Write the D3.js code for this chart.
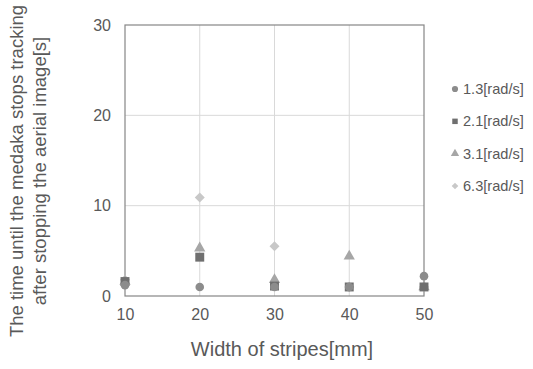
<!DOCTYPE html>
<html lang="en">
<head>
<meta charset="UTF-8">
<title>Medaka tracking time</title>
<script src="https://d3js.org/d3.v7.min.js"></script>
<style>
  body { margin: 0; background: #fff; }
  svg { font-family: "Liberation Sans", Arial, sans-serif; }
  .tick text { fill: #595959; font-size: 16px; }
</style>
</head>
<body>
<svg id="chart" width="533" height="369"></svg>
<script>
// data
const widths = [10, 20, 30, 40, 50];
const series1 = [1.2, 1.0, 1.0, 1.0, 2.2];   // 1.3[rad/s]
const series2 = [1.6, 4.3, 1.1, 1.0, 1.0];   // 2.1[rad/s]
const series3 = [1.6, 5.3, 1.8, 4.4, 1.0];   // 3.1[rad/s]
const series4 = [1.8, 10.9, 5.5, 1.0, 1.0];  // 6.3[rad/s]
const seriesNames = ["1.3[rad/s]", "2.1[rad/s]", "3.1[rad/s]", "6.3[rad/s]"];
const yTicks = [0, 10, 20, 30];
const xTicks = [10, 20, 30, 40, 50];

const svg = d3.select("#chart");
const plotLeft = 125, plotRight = 424, plotTop = 25, plotBottom = 296;

const x = d3.scaleLinear().domain([10, 50]).range([plotLeft, plotRight]);
const y = d3.scaleLinear().domain([0, 30]).range([plotBottom, plotTop]);

// gridlines
svg.append("g").selectAll("line").data(xTicks.slice(1, -1)).join("line")
  .attr("x1", d => x(d)).attr("x2", d => x(d))
  .attr("y1", plotTop).attr("y2", plotBottom)
  .attr("stroke", "#d9d9d9");
svg.append("g").selectAll("line").data(yTicks.slice(1, -1)).join("line")
  .attr("x1", plotLeft).attr("x2", plotRight)
  .attr("y1", d => y(d)).attr("y2", d => y(d))
  .attr("stroke", "#d9d9d9");

// frame
svg.append("rect")
  .attr("x", plotLeft).attr("y", plotTop)
  .attr("width", plotRight - plotLeft).attr("height", plotBottom - plotTop)
  .attr("fill", "none").attr("stroke", "#868686").attr("stroke-width", 1.2);

// axes
const xAxis = svg.append("g")
  .attr("transform", `translate(0,${plotBottom})`)
  .call(d3.axisBottom(x).tickValues(xTicks).tickSize(0).tickPadding(13));
xAxis.select(".domain").remove();

const yAxis = svg.append("g")
  .attr("transform", `translate(${plotLeft},0)`)
  .call(d3.axisLeft(y).tickValues(yTicks).tickSize(0).tickPadding(14));
yAxis.select(".domain").remove();

// axis titles
svg.append("text")
  .attr("x", 282).attr("y", 356)
  .attr("text-anchor", "middle")
  .attr("fill", "#595959").attr("font-size", "20px")
  .text("Width of stripes[mm]");

const yTitle = svg.append("text")
  .attr("transform", "translate(23,171) rotate(-90)")
  .attr("text-anchor", "middle")
  .attr("fill", "#595959").attr("font-size", "18.5px");
yTitle.append("tspan").attr("x", 0).attr("dy", 0)
  .text("The time until the medaka stops tracking");
yTitle.append("tspan").attr("x", 0).attr("dy", 23)
  .text("after stopping the aerial image[s]");

// markers (diamond = square turned 45 degrees)
const shapes = [d3.symbolCircle, d3.symbolSquare, d3.symbolTriangle, d3.symbolSquare];
const turns = [0, 0, 0, 45];
const colors = ["#8c8c8c", "#6f6f6f", "#a6a6a6", "#c8c8c8"];
const sizes = [58, 80, 55, 50];
const allSeries = [series1, series2, series3, series4];

// draw from last to first so the first series sits on top like the original
[3, 2, 1, 0].forEach(i => {
  svg.append("g").selectAll("path").data(allSeries[i]).join("path")
    .attr("transform", (d, j) => `translate(${x(widths[j])},${y(d)}) rotate(${turns[i]})`)
    .attr("d", d3.symbol().type(shapes[i]).size(sizes[i]))
    .attr("fill", colors[i]);
});

// legend
const legendY = d3.scalePoint().domain(seriesNames).range([89, 186]);
const legend = svg.append("g");
seriesNames.forEach((name, i) => {
  legend.append("path")
    .attr("transform", `translate(455,${legendY(name)}) rotate(${turns[i]})`)
    .attr("d", d3.symbol().type(shapes[i]).size(i === 3 ? 22 : 30))
    .attr("fill", colors[i]);
  legend.append("text")
    .attr("x", 463).attr("y", legendY(name) + 5)
    .attr("fill", "#595959").attr("font-size", "14.6px")
    .text(name);
});
</script>
</body>
</html>
